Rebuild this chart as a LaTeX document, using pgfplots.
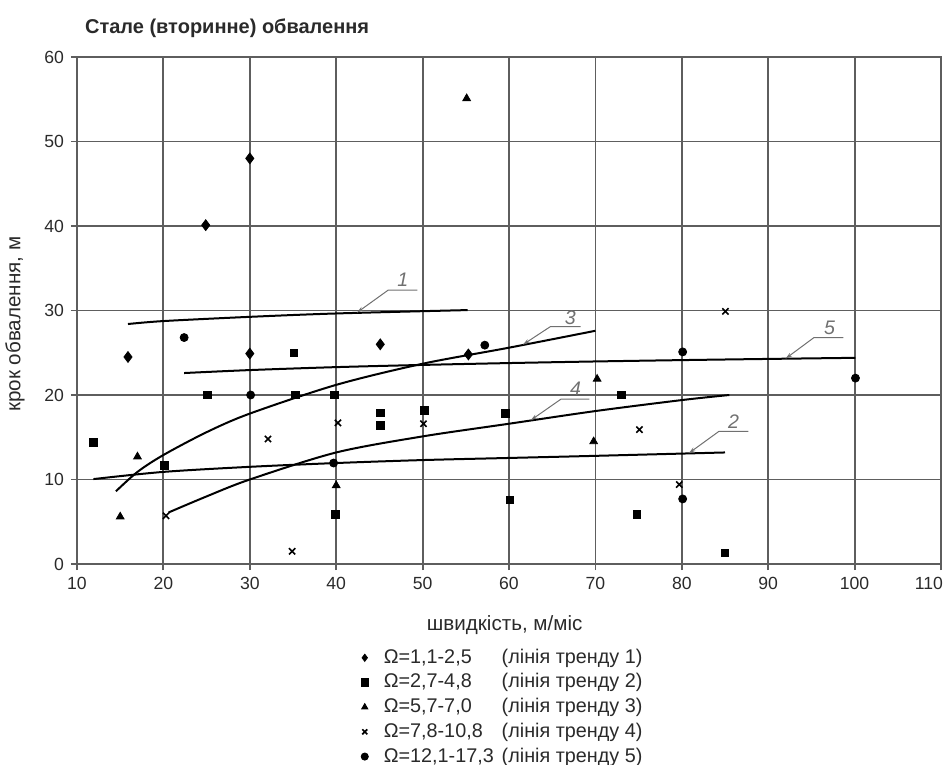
\documentclass[border=0pt]{standalone}
\usepackage{pgfplots}
\pgfplotsset{compat=1.18}
\usepackage{fontspec}
\setmainfont{Liberation Sans}
\usetikzlibrary{arrows.meta}

\definecolor{gridgray}{HTML}{5E5E5E}
\definecolor{txtgray}{HTML}{2A2A2A}
\definecolor{leadgray}{HTML}{707070}

\newcommand{\legtxt}[2]{\makebox[59pt][l]{Ω=#1}(лінія тренду #2)}

\begin{document}
\begin{tikzpicture}
\useasboundingbox (-38.5pt,-100.5pt) rectangle (435.5pt,282pt);
\begin{axis}[
    at={(0pt,0pt)}, anchor=south west,
    scale only axis, width=432pt, height=253.5pt,
    xmin=10, xmax=110, ymin=0, ymax=60,
    clip=false,
    xtick={10,20,...,110}, ytick={0,10,...,60},
    xticklabels={10,20,30,40,50,60,70,80,90,100,},
    grid=major,
    major grid style={gridgray, line width=0.9pt},
    axis line style={gridgray, line width=0.9pt},
    tick style={gridgray, line width=0.9pt},
    tick align=outside, major tick length=3pt,
    xtick pos=left, ytick pos=left,
    /pgf/number format/assume math mode=true,
    ticklabel style={font=\fontsize{8.8}{10}\selectfont, text=txtgray},
    xlabel={швидкість, м/міс},
    ylabel={крок обвалення, м},
    label style={font=\fontsize{10.3}{11}\selectfont, text=txtgray},
    xlabel style={at={(axis description cs:0.495,0)}, anchor=center, yshift=-30.5pt},
    ylabel style={at={(axis description cs:0,0.473)}, anchor=center, yshift=31pt},
    legend cell align=left,
    legend style={draw=none, fill=none, inner sep=0pt,
        at={(axis description cs:0.326,-0.161)}, anchor=north west,
        font=\fontsize{9.9}{11}\selectfont, text=txtgray, row sep=0.6pt,
        nodes={inner sep=1pt, text height=7.6pt, text depth=2.15pt}},
    legend image code/.code={\draw[#1] plot coordinates {(0.1cm,0cm)};
        \path[draw=none, fill=none] (0cm,0cm) -- (0.1cm+8.5pt,0cm);},
    legend image post style={mark size=1.8pt},
]
% series 1: diamonds
\addplot[only marks, mark=diamond*, mark size=2.7pt, black] coordinates {
 (15.9,24.5) (24.9,40.1) (30.0,48.0) (30.0,24.9) (45.1,26.0) (55.3,24.8)};
\addlegendentry{\legtxt{1,1-2,5}{1}}
% series 2: squares
\addplot[only marks, mark=square*, mark size=1.9pt, black] coordinates {
 (11.9,14.4) (20.1,11.7) (25.1,20.0) (35.1,25.0) (35.3,20.0) (39.8,20.0) (39.9,5.9)
 (45.1,17.9) (45.1,16.4) (50.2,18.2) (59.6,17.8) (60.1,7.6) (73.0,20.0) (74.8,5.9) (85.0,1.3)};
\addlegendentry{\legtxt{2,7-4,8}{2}}
% series 3: triangles
\addplot[only marks, mark=triangle*, mark size=2.2pt, black] coordinates {
 (55.1,55.1) (17.0,12.7) (15.0,5.6) (40.0,9.3) (70.2,21.9) (69.8,14.5)};
\addlegendentry{\legtxt{5,7-7,0}{3}}
% series 4: crosses
\addplot[only marks, mark=x, mark size=2.2pt, line width=0.8pt, black] coordinates {
 (20.3,5.7) (32.1,14.8) (34.9,1.5) (40.2,16.7) (50.1,16.6) (75.1,15.9) (79.7,9.4) (85.05,29.9)};
\addlegendentry{\legtxt{7,8-10,8}{4}}
% series 5: circles
\addplot[only marks, mark=*, mark size=2pt, black] coordinates {
 (22.4,26.8) (30.1,20.0) (39.7,11.95) (57.2,25.9) (80.1,25.1) (80.1,7.7) (100.1,22.0)};
\addlegendentry{\legtxt{12,1-17,3}{5}}

% trend lines
\addplot[forget plot, black, line width=1pt, smooth] coordinates {
 (15.9,28.4) (20,28.75) (30,29.25) (40,29.65) (55.2,30.05)};
\addplot[forget plot, black, line width=1pt, smooth] coordinates {
 (11.9,10.05) (20,10.9) (30,11.5) (40,11.95) (50,12.3) (60,12.55) (70,12.8) (85,13.2)};
\addplot[forget plot, black, line width=1pt, smooth] coordinates {
 (14.5,8.6) (17,10.9) (20,12.9) (25,15.6) (30,17.8) (40,21.2) (50,23.7) (60,25.6) (70,27.6)};
\addplot[forget plot, black, line width=1pt, smooth] coordinates {
 (20.6,6.1) (25,8.0) (30,10.0) (40,13.2) (50,15.1) (60,16.6) (70,18.1) (80,19.4) (85.5,20.0)};
\addplot[forget plot, black, line width=1pt, smooth] coordinates {
 (22.4,22.6) (30,22.95) (40,23.3) (50,23.56) (60,23.78) (70,23.97) (80,24.13) (90,24.27) (100.1,24.4)};

% leaders and labels
\begin{scope}[leadgray, line width=0.5pt, -{Stealth[length=3.5pt,width=2pt]}]
\draw (axis cs:49.4,32.4) -- (axis cs:46.0,32.4) -- (axis cs:42.4,29.75);
\draw (axis cs:68.3,28.1) -- (axis cs:64.8,28.1) -- (axis cs:61.6,25.95);
\draw (axis cs:69.3,19.5) -- (axis cs:66.0,19.5) -- (axis cs:62.5,17.0);
\draw (axis cs:98.7,26.8) -- (axis cs:95.3,26.8) -- (axis cs:92.0,24.3);
\draw (axis cs:87.7,15.7) -- (axis cs:84.3,15.7) -- (axis cs:80.8,13.1);
\end{scope}
\begin{scope}[font=\fontsize{9.8}{10}\selectfont\itshape, text=leadgray]
\node at (axis cs:47.7,33.6) {1};
\node at (axis cs:67.1,29.1) {3};
\node at (axis cs:67.7,20.7) {4};
\node at (axis cs:97.1,27.9) {5};
\node at (axis cs:86.0,16.8) {2};
\end{scope}
\node[anchor=north, yshift=-3pt, xshift=-6pt, font=\fontsize{8.8}{10}\selectfont, text=txtgray]
  at (axis cs:110,0) {110};
\end{axis}
\node[anchor=west, font=\fontsize{10}{11}\selectfont\bfseries, text=txtgray] at (0.5pt,268pt) {Стале (вторинне) обвалення};
\end{tikzpicture}
\end{document}
